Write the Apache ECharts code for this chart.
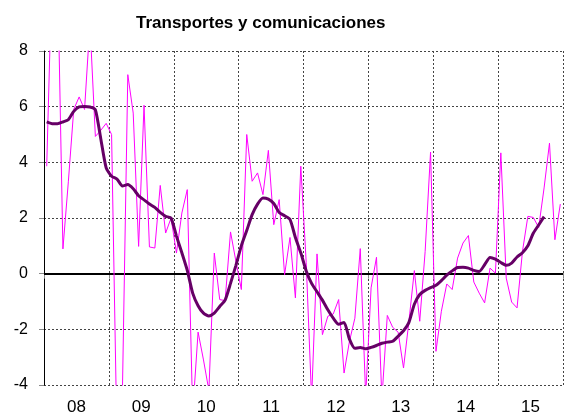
<!DOCTYPE html>
<html>
<head>
<meta charset="utf-8">
<script src="https://cdn.jsdelivr.net/npm/echarts@6/dist/echarts.min.js"></script>
<style>
html,body{margin:0;padding:0;background:#fff;}
#chart{width:569px;height:420px;}
</style>
</head>
<body>
<div id="chart"></div>
<script>
// Year categories (x axis tick labels)
var years = ['08','09','10','11','12','13','14','15'];

// Monthly series (Jan 2008 .. Dec 2015), thin magenta line
var monthly = [
  3.86, 11.0, 11.0, 0.89, 3.3, 5.9, 6.35, 5.9, 9.0, 4.93, 5.15, 5.4,
  5.0, -6.0, -4.3, 7.15, 5.77, 0.98, 6.05, 0.96, 0.92, 3.17, 1.46, 2.0,
  0.74, 2.18, 3.02, -5.0, -2.1, -3.1, -4.2, 0.74, -0.93, -0.97, 1.5, 0.44,
  -0.57, 5.0, 3.32, 3.62, 2.84, 4.43, 1.76, 2.66, -0.04, 1.3, -0.87, 3.86,
  0.4, -4.5, 0.71, -2.19, -1.53, -1.45, -0.93, -3.57, -2.43, -1.6, 0.9, -4.4,
  -0.51, 0.59, -4.5, -1.5, -1.93, -2.1, -3.39, -1.71, 0.11, -1.71, 0.8, 4.37,
  -2.79, -1.35, -0.37, -0.57, 0.56, 1.1, 1.37, -0.3, -0.7, -1.05, 0.2, 0.02,
  4.34, -0.16, -1.02, -1.23, 0.8, 2.06, 2.02, 1.66, 3.08, 4.69, 1.22, 2.5
];

// Trend series, thick purple line
var trend = [
  5.45, 5.39, 5.39, 5.45, 5.53, 5.83, 5.99, 6.01, 5.99, 5.89, 4.85, 3.8,
  3.5, 3.4, 3.15, 3.2, 3.05, 2.8, 2.65, 2.5, 2.38, 2.2, 2.06, 2.0,
  1.35, 0.75, 0.12, -0.7, -1.15, -1.42, -1.52, -1.42, -1.18, -0.95, -0.35, 0.3,
  1.0, 1.55, 2.12, 2.5, 2.72, 2.68, 2.52, 2.2, 2.08, 1.95, 1.3, 0.75,
  0.1, -0.35, -0.65, -0.95, -1.3, -1.6, -1.82, -1.75, -2.35, -2.68, -2.65, -2.7,
  -2.65, -2.58, -2.5, -2.46, -2.43, -2.25, -2.05, -1.75, -1.1, -0.75, -0.6, -0.5,
  -0.42, -0.25, -0.05, 0.1, 0.22, 0.23, 0.2, 0.12, 0.08, 0.32, 0.58, 0.52,
  0.4, 0.3, 0.38, 0.6, 0.75, 1.0, 1.45, 1.75, 2.05
];

var months = [];
for (var y = 0; y < years.length; y++) {
  for (var m = 1; m <= 12; m++) months.push(years[y] + '-' + m);
}

var FONT = '"Liberation Sans", Arial, sans-serif';
var chart = echarts.init(document.getElementById('chart'), null, {renderer: 'canvas'});
chart.setOption({
  animation: false,
  backgroundColor: '#ffffff',
  title: {
    text: 'Transportes y comunicaciones',
    left: 131,
    top: 10,
    textStyle: {fontFamily: FONT, fontSize: 17, fontWeight: 'bold', color: '#000'}
  },
  grid: {left: 44, right: 6, top: 51, bottom: 35, containLabel: false},
  xAxis: [
    {
      type: 'category',
      data: years,
      boundaryGap: true,
      axisLine: {show: true, lineStyle: {color: '#000', width: 1}},
      axisTick: {show: true, length: 5, lineStyle: {color: '#888'}},
      axisLabel: {fontFamily: FONT, fontSize: 17, color: '#000', margin: 14},
      splitLine: {show: true, lineStyle: {color: '#444', type: [2, 2], width: 1}}
    },
    {
      type: 'category',
      data: months,
      boundaryGap: true,
      show: false
    }
  ],
  yAxis: {
    type: 'value',
    min: -4,
    max: 8,
    interval: 2,
    axisLine: {show: true, lineStyle: {color: '#000', width: 1}},
    axisTick: {show: true, length: 5, lineStyle: {color: '#888'}},
    axisLabel: {fontFamily: FONT, fontSize: 16, color: '#000', margin: 16},
    splitLine: {show: true, lineStyle: {color: '#444', type: [2, 2], width: 1}}
  },
  series: [
    {
      type: 'line',
      xAxisIndex: 1,
      data: monthly,
      symbol: 'none',
      lineStyle: {color: '#ff00ff', width: 1},
      clip: true,
      z: 3,
      markLine: {
        silent: true,
        symbol: 'none',
        label: {show: false},
        lineStyle: {color: '#000', type: 'solid', width: 2},
        data: [{yAxis: 0}],
        z: 2
      }
    },
    {
      type: 'line',
      xAxisIndex: 1,
      data: trend,
      symbol: 'none',
      smooth: 0.2,
      lineStyle: {color: '#660066', width: 3},
      clip: true,
      z: 4
    }
  ]
});
</script>
</body>
</html>
